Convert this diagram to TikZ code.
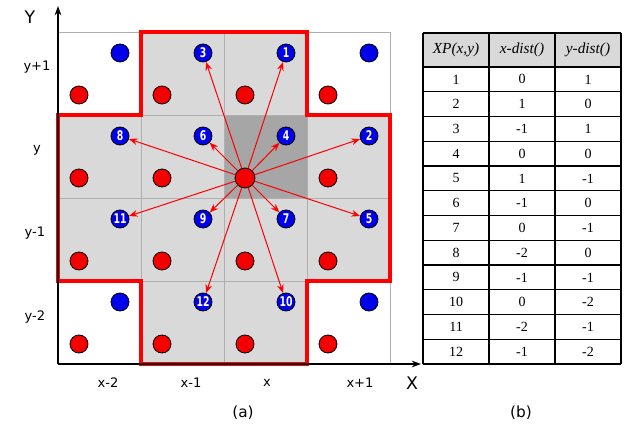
\documentclass[tikz,border=0pt]{standalone}
\usepackage{fontspec}
\setmainfont{Liberation Serif}
\newfontfamily\labfont{DejaVu Sans}
\usetikzlibrary{arrows.meta}
\definecolor{lgray}{RGB}{217,217,217}
\definecolor{dgray}{RGB}{166,166,166}
\definecolor{gridc}{RGB}{175,175,175}
\definecolor{dotblue}{RGB}{0,0,235}
\definecolor{dotred}{RGB}{245,0,0}
\tikzset{
  reddot/.style={circle,draw=black,line width=0.6pt,fill=dotred,minimum size=13.5pt,inner sep=0pt},
  bluedot/.style={circle,draw=black,line width=0.6pt,fill=dotblue,minimum size=13.5pt,inner sep=0pt,text=white,font=\labfont\bfseries\fontsize{10}{10}\selectfont},
  axlab/.style={font=\labfont\fontsize{9.8}{11}\selectfont},
  ray/.style={draw=red,line width=0.75pt,-{Stealth[length=6.5pt,width=5pt]}},
  tabtxt/.style={font=\fontsize{10.5}{12}\selectfont},
  tabhead/.style={font=\itshape\fontsize{11.5}{13}\selectfont},
}
\newcommand{\nm}[1]{\scalebox{0.7}[1]{#1}}
\begin{document}
\begin{tikzpicture}[x=0.75pt,y=-0.75pt]
\useasboundingbox (0,0) rectangle (627,427);
% light gray cells
\foreach \c/\r in {1/0,2/0,0/1,1/1,3/1,0/2,1/2,2/2,3/2,1/3,2/3}
  \fill[lgray] (58+83*\c,32+83*\r) rectangle ++(83,83);
\fill[dgray] (224,115) rectangle (307,198);
% grid
\foreach \v in {58,141,224,307,390}
  \draw[gridc,line width=0.6pt] (\v,32) -- (\v,364);
\foreach \h in {32,115,198,281,364}
  \draw[gridc,line width=0.6pt] (58,\h) -- (390,\h);
% red outline
\draw[red,line width=2.3pt,line join=miter] (141,32) -- (307,32) -- (307,115) -- (390,115) -- (390,281) -- (307,281) -- (307,364) -- (141,364) -- (141,281) -- (58,281) -- (58,115) -- (141,115) -- cycle;
% axes
\coordinate (O) at (58,364);
\coordinate (ytip) at (58,6);
\coordinate (xtip) at (421,364);
\draw[line width=1pt,-{Stealth[length=7pt,width=5pt]}] (O) -- (ytip);
\draw[line width=1pt,-{Stealth[length=7pt,width=5pt]}] (O) -- (xtip);
% axis labels
\node[font=\labfont\fontsize{13}{13}\selectfont] (Ylab) at (30,17) {Y};
\node[font=\labfont\fontsize{13}{13}\selectfont] (Xlab) at (412,383) {X};
\node[axlab] (ly1) at (37,67) {y+1};
\node[axlab] (ly0) at (37,150) {y};
\node[axlab] (ly-1) at (35,233) {y-1};
\node[axlab] (ly-2) at (35,317) {y-2};
\node[axlab] (lx-2) at (108,383) {x-2};
\node[axlab] (lx-1) at (191,383) {x-1};
\node[axlab] (lx0) at (267,383) {x};
\node[axlab] (lx1) at (360,383) {x+1};
\node[font=\labfont\fontsize{11.5}{12}\selectfont] (capa) at (243,413) {(a)};
\node[font=\labfont\fontsize{11.5}{12}\selectfont] (capb) at (521,413) {(b)};
% dots
\foreach \c in {0,1,2,3}
  \foreach \r in {0,1,2,3}
    \node[reddot] (r-\c-\r) at (79+83*\c,95+83*\r) {};
\node[reddot,minimum size=15pt] (ctr) at (245,178) {};
\foreach \c/\r/\t in {0/0/,3/0/,0/3/,3/3/,2/0/1,3/1/2,1/0/3,2/1/4,3/2/5,1/1/6,2/2/7,0/1/8,1/2/9,2/3/10,0/2/11,1/3/12}
  \node[bluedot] (b-\c-\r) at (120+83*\c,53+83*\r) {\nm{\t}};
% rays
\foreach \c/\r in {2/0,3/1,1/0,2/1,3/2,1/1,2/2,0/1,1/2,2/3,0/2,1/3}
  \draw[ray] (ctr) -- (b-\c-\r);
% table
\fill[lgray] (423,33) rectangle (621,67);
\foreach \v in {423,489,555,621}
  \draw[line width=0.9pt] (\v,33) -- (\v,364);
\draw[line width=0.9pt] (423,33) -- (621,33);
\foreach \k in {0,...,12}
  \draw[line width=0.9pt] (423,67+24.75*\k) -- (621,67+24.75*\k);
\node[tabhead] (h1) at (456,50) {XP(x,y)};
\node[tabhead] (h2) at (522,50) {x-dist()};
\node[tabhead] (h3) at (588,50) {y-dist()};
\foreach \n/\a/\b [count=\k from 0] in {1/0/1,2/1/0,3/-1/1,4/0/0,5/1/-1,6/-1/0,7/0/-1,8/-2/0,9/-1/-1,10/0/-2,11/-2/-1,12/-1/-2}{
  \node[tabtxt] (c1-\n) at (456,79.4+24.75*\k) {\n};
  \node[tabtxt] (c2-\n) at (522,79.4+24.75*\k) {\a};
  \node[tabtxt] (c3-\n) at (588,79.4+24.75*\k) {\b};
}
\end{tikzpicture}
\end{document}
